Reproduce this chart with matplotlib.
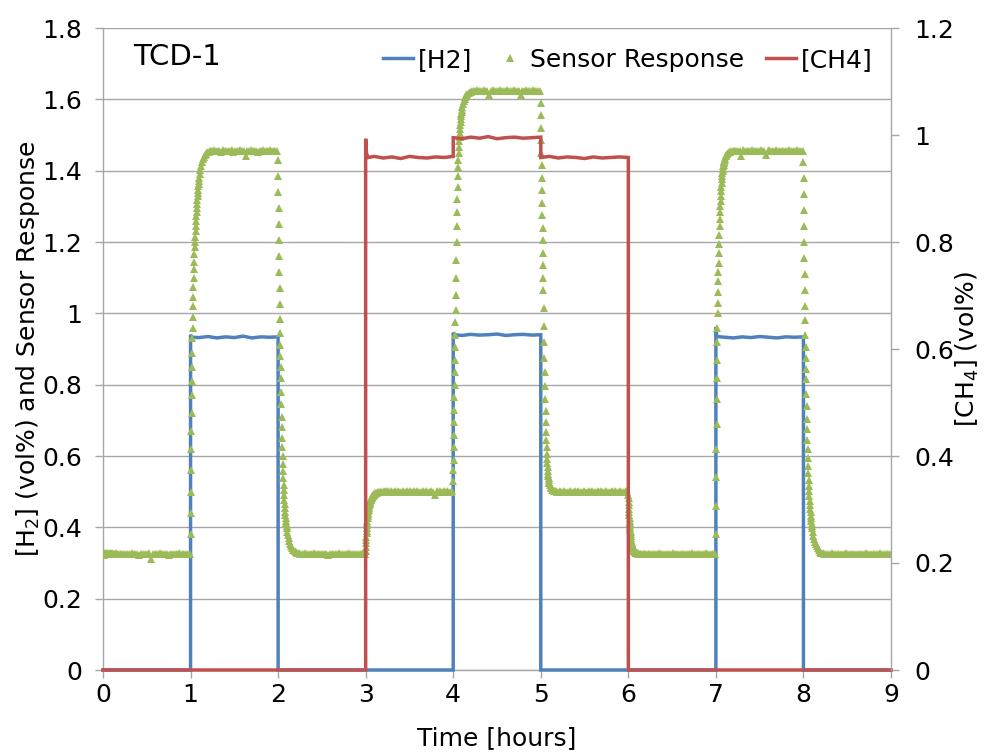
import matplotlib.pyplot as plt
import numpy as np

# colours (Excel 2007 style)
BLUE = '#4F81BD'
RED = '#C0504D'
GREEN = '#9BBB59'
GRID = '#A6A6A6'

# [H2] (vol%), left axis
h2_time = [0, 1, 1, 1.01, 1.1, 1.2, 1.3, 1.4, 1.5, 1.6, 1.7, 1.8, 1.9, 2, 2,
           4, 4, 4.01, 4.1, 4.2, 4.3, 4.4, 4.5, 4.6, 4.7, 4.8, 4.9, 5, 5,
           7, 7, 7.01, 7.1, 7.2, 7.3, 7.4, 7.5, 7.6, 7.7, 7.8, 7.9, 8, 8, 9]
h2_value = [0, 0, 0.940, 0.933, 0.932, 0.935, 0.931, 0.934, 0.932, 0.936, 0.931, 0.934, 0.933, 0.934, 0,
            0, 0.946, 0.940, 0.938, 0.941, 0.939, 0.940, 0.942, 0.938, 0.940, 0.941, 0.939, 0.940, 0,
            0, 0.962, 0.935, 0.933, 0.931, 0.934, 0.932, 0.935, 0.933, 0.931, 0.934, 0.933, 0.934, 0, 0]

# [CH4] (vol%), right axis
ch4_time = [0, 3, 3, 3.01, 3.03, 3.1, 3.2, 3.3, 3.4, 3.5, 3.6, 3.7, 3.8, 3.9, 4, 4,
            4.1, 4.2, 4.3, 4.4, 4.5, 4.6, 4.7, 4.8, 4.9, 5, 5,
            5.1, 5.2, 5.3, 5.4, 5.5, 5.6, 5.7, 5.8, 5.9, 6, 6, 9]
ch4_value = [0, 0, 0.993, 0.965, 0.958, 0.960, 0.957, 0.959, 0.956, 0.960, 0.958, 0.957, 0.959, 0.958, 0.960, 0.995,
             0.993, 0.996, 0.994, 0.997, 0.993, 0.995, 0.996, 0.994, 0.995, 0.996, 0.958,
             0.960, 0.957, 0.959, 0.958, 0.956, 0.959, 0.957, 0.958, 0.959, 0.958, 0, 0]

# sensor response sampling grid inside each hour (dense right after each gas switch)
switch_offsets = [0.000, 0.002, 0.004, 0.006, 0.008, 0.010, 0.012, 0.014, 0.016, 0.018,
                  0.020, 0.022, 0.024, 0.026, 0.028, 0.030, 0.033, 0.036, 0.039, 0.042,
                  0.045, 0.048, 0.051, 0.054, 0.057, 0.060, 0.063, 0.066, 0.069, 0.072,
                  0.075, 0.078, 0.081, 0.084, 0.087, 0.090, 0.093, 0.096, 0.099, 0.105,
                  0.112, 0.120, 0.129, 0.139, 0.150, 0.162, 0.175, 0.190, 0.205, 0.220,
                  0.235]
flat_offsets = [0.25, 0.27, 0.29, 0.31, 0.33, 0.35, 0.37, 0.39, 0.41, 0.43,
                0.45, 0.47, 0.49, 0.51, 0.53, 0.55, 0.57, 0.59, 0.61, 0.63,
                0.65, 0.67, 0.69, 0.71, 0.73, 0.75, 0.77, 0.79, 0.81, 0.83,
                0.85, 0.87, 0.89, 0.91, 0.93, 0.95, 0.97, 0.99]

# sensor response per hour: values on switch_offsets, then on flat_offsets
sensor_h0 = [0.326, 0.324, 0.325, 0.327, 0.324, 0.326, 0.325, 0.323, 0.326, 0.325,
             0.324, 0.326, 0.325, 0.327, 0.324, 0.325, 0.326, 0.324, 0.325, 0.326,
             0.324, 0.325, 0.327, 0.325, 0.324, 0.326, 0.325, 0.324, 0.326, 0.325,
             0.327, 0.324, 0.325, 0.326, 0.325, 0.324, 0.326, 0.325, 0.327, 0.324,
             0.325, 0.326, 0.324, 0.325, 0.327, 0.325, 0.324, 0.326, 0.325, 0.324,
             0.326] + \
            [0.325, 0.326, 0.324, 0.325, 0.327, 0.324, 0.326, 0.325, 0.323, 0.326,
             0.325, 0.324, 0.326, 0.325, 0.327, 0.312, 0.325, 0.326, 0.324, 0.325,
             0.327, 0.325, 0.324, 0.326, 0.325, 0.323, 0.326, 0.325, 0.324, 0.326,
             0.325, 0.327, 0.324, 0.325, 0.326, 0.325, 0.324, 0.326]
sensor_h1 = [0.38, 0.44, 0.50, 0.56, 0.62, 0.67, 0.72, 0.77, 0.81, 0.85,
             0.89, 0.93, 0.96, 0.99, 1.02, 1.045, 1.075, 1.10, 1.125, 1.145,
             1.165, 1.185, 1.20, 1.215, 1.23, 1.245, 1.26, 1.272, 1.284, 1.296,
             1.307, 1.318, 1.328, 1.338, 1.347, 1.356, 1.364, 1.372, 1.379, 1.391,
             1.403, 1.414, 1.424, 1.432, 1.439, 1.444, 1.448, 1.451, 1.453, 1.454,
             1.455] + \
            [1.455, 1.457, 1.454, 1.456, 1.455, 1.453, 1.457, 1.455, 1.454, 1.456,
             1.455, 1.457, 1.453, 1.456, 1.455, 1.454, 1.457, 1.455, 1.456, 1.441,
             1.456, 1.455, 1.457, 1.454, 1.456, 1.455, 1.453, 1.456, 1.455, 1.457,
             1.454, 1.456, 1.455, 1.457, 1.454, 1.456, 1.455, 1.456]
sensor_h2 = [1.43, 1.385, 1.34, 1.295, 1.25, 1.205, 1.16, 1.115, 1.07, 1.025,
             0.985, 0.945, 0.91, 0.88, 0.85, 0.82, 0.78, 0.745, 0.71, 0.68,
             0.65, 0.625, 0.60, 0.578, 0.557, 0.538, 0.52, 0.505, 0.49, 0.477,
             0.465, 0.454, 0.444, 0.435, 0.426, 0.418, 0.411, 0.404, 0.398, 0.388,
             0.378, 0.369, 0.361, 0.354, 0.348, 0.342, 0.337, 0.333, 0.330, 0.328,
             0.327] + \
            [0.326, 0.324, 0.325, 0.327, 0.325, 0.324, 0.326, 0.325, 0.327, 0.324,
             0.325, 0.326, 0.324, 0.325, 0.326, 0.325, 0.323, 0.326, 0.325, 0.324,
             0.326, 0.325, 0.327, 0.324, 0.325, 0.326, 0.324, 0.325, 0.327, 0.325,
             0.324, 0.326, 0.325, 0.324, 0.326, 0.325, 0.327, 0.325]
sensor_h3 = [0.335, 0.345, 0.355, 0.365, 0.374, 0.383, 0.391, 0.399, 0.406, 0.413,
             0.419, 0.425, 0.431, 0.436, 0.441, 0.445, 0.450, 0.455, 0.459, 0.463,
             0.466, 0.469, 0.472, 0.474, 0.476, 0.478, 0.480, 0.482, 0.483, 0.485,
             0.486, 0.487, 0.488, 0.489, 0.490, 0.491, 0.492, 0.493, 0.493, 0.494,
             0.495, 0.496, 0.497, 0.498, 0.499, 0.499, 0.500, 0.500, 0.501, 0.500,
             0.501] + \
            [0.501, 0.500, 0.502, 0.499, 0.501, 0.500, 0.502, 0.500, 0.499, 0.501,
             0.500, 0.502, 0.500, 0.501, 0.499, 0.501, 0.500, 0.502, 0.499, 0.500,
             0.501, 0.500, 0.502, 0.500, 0.499, 0.501, 0.500, 0.492, 0.501, 0.500,
             0.502, 0.499, 0.501, 0.500, 0.502, 0.500, 0.499, 0.501]
sensor_h4 = [0.53, 0.56, 0.59, 0.625, 0.66, 0.695, 0.73, 0.765, 0.80, 0.835,
             0.87, 0.905, 0.94, 0.975, 1.01, 1.05, 1.10, 1.15, 1.20, 1.245,
             1.285, 1.32, 1.355, 1.385, 1.41, 1.43, 1.45, 1.467, 1.482, 1.495,
             1.507, 1.518, 1.528, 1.537, 1.545, 1.552, 1.558, 1.564, 1.569, 1.578,
             1.587, 1.595, 1.602, 1.607, 1.612, 1.615, 1.618, 1.620, 1.621, 1.622,
             1.622] + \
            [1.623, 1.625, 1.622, 1.624, 1.623, 1.625, 1.622, 1.624, 1.612, 1.623,
             1.625, 1.622, 1.624, 1.623, 1.625, 1.622, 1.624, 1.623, 1.625, 1.622,
             1.624, 1.623, 1.625, 1.622, 1.624, 1.623, 1.612, 1.624, 1.623, 1.625,
             1.622, 1.624, 1.623, 1.625, 1.622, 1.624, 1.623, 1.622]
sensor_h5 = [1.59, 1.555, 1.52, 1.485, 1.45, 1.415, 1.38, 1.345, 1.31, 1.275,
             1.24, 1.205, 1.17, 1.135, 1.10, 1.065, 1.015, 0.965, 0.92, 0.875,
             0.835, 0.795, 0.76, 0.725, 0.695, 0.668, 0.645, 0.625, 0.607, 0.592,
             0.579, 0.568, 0.558, 0.55, 0.543, 0.537, 0.532, 0.528, 0.524, 0.518,
             0.513, 0.509, 0.506, 0.504, 0.503, 0.502, 0.501, 0.500, 0.500, 0.501,
             0.500] + \
            [0.500, 0.501, 0.499, 0.500, 0.502, 0.500, 0.499, 0.501, 0.500, 0.502,
             0.499, 0.500, 0.501, 0.500, 0.499, 0.501, 0.500, 0.502, 0.500, 0.499,
             0.501, 0.500, 0.502, 0.499, 0.500, 0.501, 0.500, 0.499, 0.501, 0.500,
             0.502, 0.500, 0.499, 0.501, 0.500, 0.499, 0.501, 0.500]
sensor_h6 = [0.492, 0.482, 0.472, 0.462, 0.452, 0.443, 0.434, 0.426, 0.418, 0.411,
             0.404, 0.398, 0.392, 0.386, 0.381, 0.376, 0.370, 0.365, 0.360, 0.356,
             0.352, 0.349, 0.346, 0.343, 0.341, 0.339, 0.337, 0.336, 0.334, 0.333,
             0.332, 0.331, 0.330, 0.330, 0.329, 0.329, 0.328, 0.328, 0.327, 0.327,
             0.326, 0.326, 0.325, 0.326, 0.325, 0.325, 0.326, 0.325, 0.324, 0.325,
             0.326] + \
            [0.326, 0.325, 0.324, 0.326, 0.325, 0.327, 0.324, 0.325, 0.326, 0.325,
             0.324, 0.326, 0.325, 0.327, 0.324, 0.325, 0.326, 0.324, 0.325, 0.326,
             0.325, 0.324, 0.326, 0.325, 0.327, 0.325, 0.324, 0.326, 0.325, 0.324,
             0.326, 0.325, 0.327, 0.324, 0.325, 0.326, 0.325, 0.324]
sensor_h7 = [0.38, 0.46, 0.54, 0.62, 0.69, 0.76, 0.82, 0.87, 0.92, 0.96,
             1.00, 1.03, 1.06, 1.09, 1.115, 1.14, 1.17, 1.195, 1.22, 1.245,
             1.265, 1.285, 1.30, 1.315, 1.33, 1.343, 1.355, 1.366, 1.376, 1.385,
             1.393, 1.40, 1.406, 1.412, 1.417, 1.421, 1.425, 1.428, 1.431, 1.436,
             1.440, 1.444, 1.447, 1.450, 1.452, 1.453, 1.454, 1.455, 1.455, 1.456,
             1.455] + \
            [1.455, 1.456, 1.442, 1.457, 1.455, 1.456, 1.454, 1.455, 1.457, 1.455,
             1.456, 1.454, 1.455, 1.457, 1.455, 1.454, 1.443, 1.455, 1.457, 1.454,
             1.456, 1.455, 1.457, 1.454, 1.456, 1.455, 1.454, 1.456, 1.455, 1.457,
             1.455, 1.454, 1.456, 1.455, 1.457, 1.455, 1.456, 1.455]
sensor_h8 = [1.425, 1.38, 1.335, 1.29, 1.245, 1.20, 1.155, 1.11, 1.065, 1.02,
             0.98, 0.94, 0.905, 0.875, 0.845, 0.815, 0.775, 0.74, 0.705, 0.675,
             0.645, 0.62, 0.595, 0.573, 0.553, 0.534, 0.517, 0.502, 0.488, 0.475,
             0.463, 0.452, 0.442, 0.433, 0.425, 0.417, 0.410, 0.403, 0.397, 0.387,
             0.377, 0.368, 0.360, 0.353, 0.347, 0.341, 0.336, 0.332, 0.329, 0.327,
             0.326] + \
            [0.325, 0.326, 0.324, 0.325, 0.327, 0.325, 0.324, 0.326, 0.325, 0.324,
             0.326, 0.325, 0.327, 0.324, 0.325, 0.326, 0.324, 0.325, 0.326, 0.325,
             0.324, 0.326, 0.325, 0.327, 0.325, 0.324, 0.326, 0.325, 0.324, 0.326,
             0.325, 0.327, 0.324, 0.325, 0.326, 0.325, 0.324, 0.326]

x_ticks = [0, 1, 2, 3, 4, 5, 6, 7, 8, 9]
left_ticks = [0, 0.2, 0.4, 0.6, 0.8, 1.0, 1.2, 1.4, 1.6, 1.8]
left_labels = ['0', '0.2', '0.4', '0.6', '0.8', '1', '1.2', '1.4', '1.6', '1.8']
right_ticks = [0, 0.2, 0.4, 0.6, 0.8, 1.0, 1.2]
right_labels = ['0', '0.2', '0.4', '0.6', '0.8', '1', '1.2']

sensor_hours = [sensor_h0, sensor_h1, sensor_h2, sensor_h3, sensor_h4,
                sensor_h5, sensor_h6, sensor_h7, sensor_h8]
hour_grid = np.array(switch_offsets + flat_offsets)
sensor_time = np.concatenate([h + hour_grid for h in range(len(sensor_hours))])
sensor_value = np.concatenate(sensor_hours)

plt.rcParams['font.family'] = ['DejaVu Sans']
FS = 18

fig = plt.figure(figsize=(9.85, 7.53), dpi=100)
ax = fig.add_axes([103 / 985, 83 / 753, 788 / 985, 642 / 753])

ln_h2, = ax.plot(h2_time, h2_value, color=BLUE, lw=2.5, zorder=3, clip_on=False,
                 solid_joinstyle='miter')
ln_sr, = ax.plot(sensor_time, sensor_value, ls='none', marker='^', ms=6,
                 mew=0, color=GREEN, zorder=4)

ax.set_xlim(0, 9)
ax.set_ylim(0, 1.8)
ax.set_xticks(x_ticks)
ax.set_xticklabels([str(t) for t in x_ticks])
ax.set_yticks(left_ticks)
ax.set_yticklabels(left_labels)
ax.grid(axis='y', color=GRID, lw=1.0, zorder=0)
ax.set_axisbelow(True)
for side in ['top', 'right']:
    ax.spines[side].set_visible(False)
for side in ['left', 'bottom']:
    ax.spines[side].set_color(GRID)
    ax.spines[side].set_linewidth(1.0)
ax.tick_params(axis='y', direction='out', length=6, width=1, color=GRID,
               labelsize=FS, pad=9)
ax.tick_params(axis='x', direction='out', length=6, width=1, color=GRID,
               labelsize=FS, pad=3)
ax.set_xlabel('Time [hours]', fontsize=FS)
ax.set_ylabel('[H$_2$] (vol%) and Sensor Response', fontsize=FS)
ax.xaxis.set_label_coords(0.5, -0.088)
ax.yaxis.set_label_coords(-0.078, 0.5)

ax2 = ax.twinx()
ln_ch4, = ax2.plot(ch4_time, ch4_value, color=RED, lw=2.5, clip_on=False,
                   solid_joinstyle='miter')
ax2.set_ylim(0, 1.2)
ax2.set_yticks(right_ticks)
ax2.set_yticklabels(right_labels)
for side in ['top', 'left', 'bottom']:
    ax2.spines[side].set_visible(False)
ax2.spines['right'].set_color(GRID)
ax2.spines['right'].set_linewidth(1.0)
ax2.tick_params(axis='y', direction='out', length=6, width=1, color=GRID,
                labelsize=FS, pad=11)
ax2.set_ylabel('[CH$_4$] (vol%)', fontsize=FS)
ax2.yaxis.set_label_coords(1.08, 0.5)

ax.text(0.038, 0.955, 'TCD-1', transform=ax.transAxes, fontsize=21,
        ha='left', va='center')

ax2.legend([ln_h2, ln_sr, ln_ch4], ['[H2]', 'Sensor Response', '[CH4]'],
           loc='center right', bbox_to_anchor=(0.977, 0.950), ncol=3,
           frameon=False, fontsize=FS, handlelength=1.2, handletextpad=0.2,
           columnspacing=0.9, borderpad=0, borderaxespad=0, numpoints=1)

fig.savefig('out.png', dpi=100)
